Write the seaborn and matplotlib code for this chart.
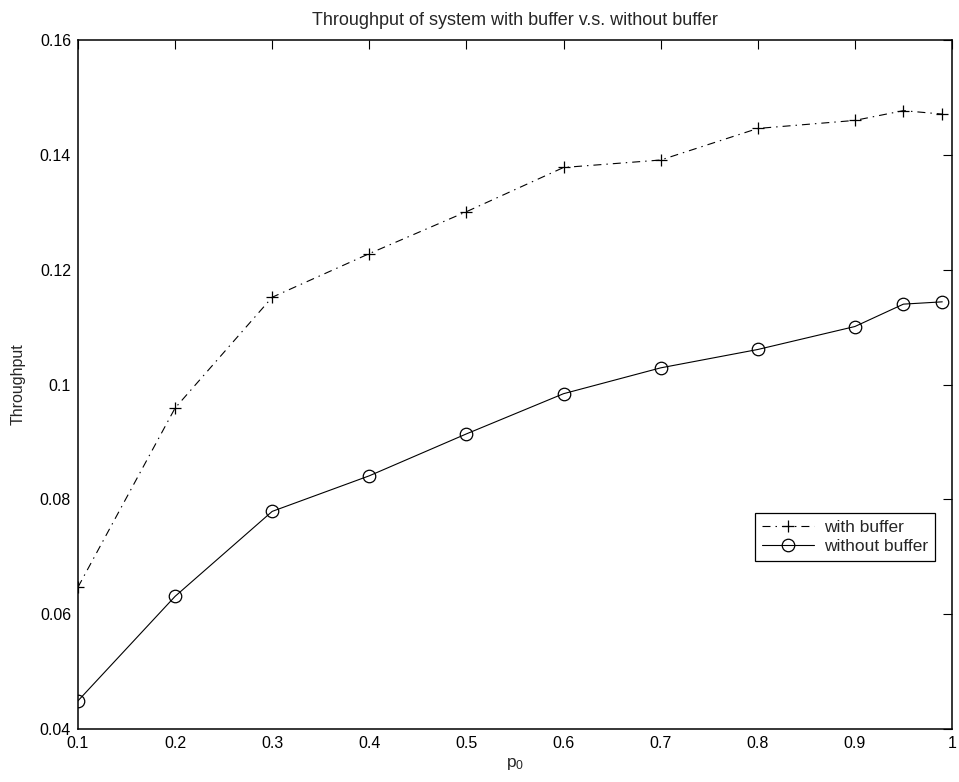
import matplotlib
matplotlib.use("Agg")
import matplotlib.pyplot as plt
import seaborn as sns
import pandas as pd

p0 = [0.1, 0.2, 0.3, 0.4, 0.5, 0.6, 0.7, 0.8, 0.9, 0.95, 0.99]
with_buffer = [0.0647, 0.0959, 0.1152, 0.1228, 0.1301, 0.1378, 0.1391, 0.1446, 0.1460, 0.1477, 0.1471]
without_buffer = [0.0449, 0.0631, 0.0779, 0.0841, 0.0914, 0.0984, 0.1029, 0.1061, 0.1101, 0.1140, 0.1144]
series_names = ["with buffer", "without buffer"]
x_ticks = [0.1, 0.2, 0.3, 0.4, 0.5, 0.6, 0.7, 0.8, 0.9, 1.0]
x_tick_labels = ["0.1", "0.2", "0.3", "0.4", "0.5", "0.6", "0.7", "0.8", "0.9", "1"]
y_ticks = [0.04, 0.06, 0.08, 0.10, 0.12, 0.14, 0.16]
y_tick_labels = ["0.04", "0.06", "0.08", "0.1", "0.12", "0.14", "0.16"]

sns.set_style("white")
plt.rcParams["font.family"] = ["Liberation Sans", "DejaVu Sans"]
plt.rcParams["mathtext.fontset"] = "custom"
plt.rcParams["mathtext.rm"] = "Liberation Sans"
plt.rcParams["mathtext.it"] = "Liberation Sans"

df_with = pd.DataFrame({"p0": p0, "Throughput": with_buffer})
df_without = pd.DataFrame({"p0": p0, "Throughput": without_buffer})

fig = plt.figure(figsize=(9.59, 7.82), dpi=100)
ax = fig.add_axes([0.0813, 0.0678, 0.9114, 0.881])

sns.lineplot(data=df_with, x="p0", y="Throughput", ax=ax, color="k",
             linestyle=(0, (7.2, 4.5, 1.3, 4.5)), linewidth=0.8, marker="+",
             markersize=9, markeredgecolor="k", markeredgewidth=0.9,
             label=series_names[0])
sns.lineplot(data=df_without, x="p0", y="Throughput", ax=ax, color="k",
             linestyle="-", linewidth=0.8, marker="o", markersize=9,
             markerfacecolor="none", markeredgecolor="k", markeredgewidth=0.9,
             label=series_names[1])

ax.set_xlim(0.1, 1.0)
ax.set_ylim(0.04, 0.16)
ax.set_xticks(x_ticks)
ax.set_xticklabels(x_tick_labels)
ax.set_yticks(y_ticks)
ax.set_yticklabels(y_tick_labels)
ax.tick_params(direction="in", length=6.5, width=0.8, top=True, right=True,
               labelsize=11.5, colors="k")
ax.tick_params(axis="x", pad=5)
ax.tick_params(axis="y", pad=5)
for s in ax.spines.values():
    s.set_visible(True)
    s.set_color("k")
    s.set_linewidth(1.1)

ax.set_title("Throughput of system with buffer v.s. without buffer", fontsize=13, pad=11)
ax.set_xlabel(r"$\mathregular{p_0}$", fontsize=12.5, labelpad=4)
ax.set_ylabel("Throughput", fontsize=11.5, labelpad=10)

leg = ax.legend(loc="upper right", bbox_to_anchor=(0.9805, 0.3135), fontsize=12.5,
                frameon=True, fancybox=False, framealpha=1, edgecolor="k",
                borderpad=0.4, labelspacing=0.2, handlelength=3.0,
                handletextpad=0.55, borderaxespad=0)
leg.get_frame().set_linewidth(0.9)

fig.savefig("out.png", dpi=100)
